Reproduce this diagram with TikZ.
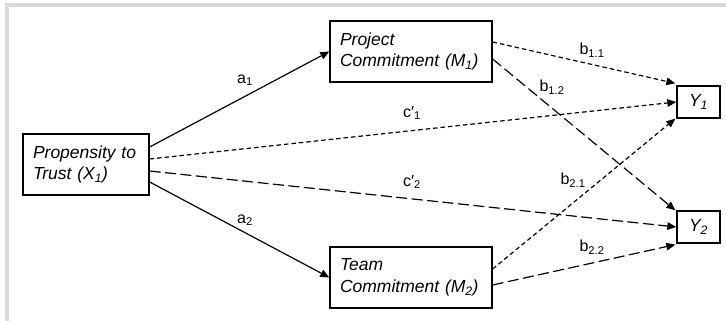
\documentclass[tikz,border=0pt]{standalone}
\usepackage{fontspec}
\setmainfont{Liberation Sans}
\usetikzlibrary{arrows.meta}
\definecolor{framegray}{HTML}{D9D9D9}
\tikzset{
  box/.style={draw, line width=1.3pt, inner xsep=10pt, inner ysep=0pt, align=left,
    font=\fontsize{17.5}{21.7}\selectfont\itshape, anchor=center},
  ybox/.style={draw, line width=1.3pt, inner sep=0pt, align=center,
    font=\fontsize{17.5}{21.7}\selectfont\itshape, minimum width=43pt, minimum height=32pt},
  conn/.style={line width=1.2pt, -{Triangle[length=9pt,width=7.5pt]}},
  shortdash/.style={conn, dash pattern=on 4.5pt off 3pt},
  longdash/.style={conn, dash pattern=on 11pt off 4.5pt},
  lab/.style={font=\fontsize{16}{19}\selectfont, inner sep=0pt}
}
\begin{document}
\begin{tikzpicture}[x=1pt,y=-1pt]
\useasboundingbox (0,0) rectangle (726,321);
\fill[framegray] (5,3) rectangle (726,7);
\fill[framegray] (5,3) rectangle (9,321);

\node[box, text width=106pt, minimum height=61pt] (X) at (86,164.5) {Propensity to\\Trust (X\textsubscript{1})};
\node[box, text width=142pt, minimum height=61pt] (M1) at (411,51.5) {Project\\Commitment (M\textsubscript{1})};
\node[box, text width=142pt, minimum height=61pt] (M2) at (411,277.5) {Team\\Commitment (M\textsubscript{2})};
\node[ybox] (Y1) at (698.5,102) {Y\textsubscript{1}};
\node[ybox] (Y2) at (698.5,227) {Y\textsubscript{2}};

\draw[conn] ([yshift=17.5pt]X.east) -- (M1.west);
\draw[conn] ([yshift=-17.5pt]X.east) -- (M2.west);
\draw[shortdash] ([yshift=5.5pt]X.east) -- (Y1.west);
\draw[longdash] ([yshift=-6.5pt]X.east) -- (Y2.west);
\draw[shortdash] ([yshift=9.5pt]M1.east) -- ([xshift=-1pt,yshift=2pt]Y1.north west);
\draw[longdash] ([yshift=-7.5pt]M1.east) -- ([xshift=-1pt]Y2.north west);
\draw[shortdash] ([yshift=8.5pt]M2.east) -- ([xshift=-1pt]Y1.south west);
\draw[longdash] ([yshift=-7.5pt]M2.east) -- ([xshift=-1pt,yshift=-1pt]Y2.south west);

\node[lab] (la1) at (245,80) {a\textsubscript{1}};
\node[lab] (la2) at (245,220) {a\textsubscript{2}};
\node[lab] (lc1) at (412,113) {c′\textsubscript{1}};
\node[lab] (lc2) at (412,182) {c′\textsubscript{2}};
\node[lab] (lb11) at (592,50) {b\textsubscript{1.1}};
\node[lab] (lb12) at (552,87) {b\textsubscript{1.2}};
\node[lab] (lb21) at (573,180) {b\textsubscript{2.1}};
\node[lab] (lb22) at (592,247) {b\textsubscript{2.2}};
\end{tikzpicture}
\end{document}
